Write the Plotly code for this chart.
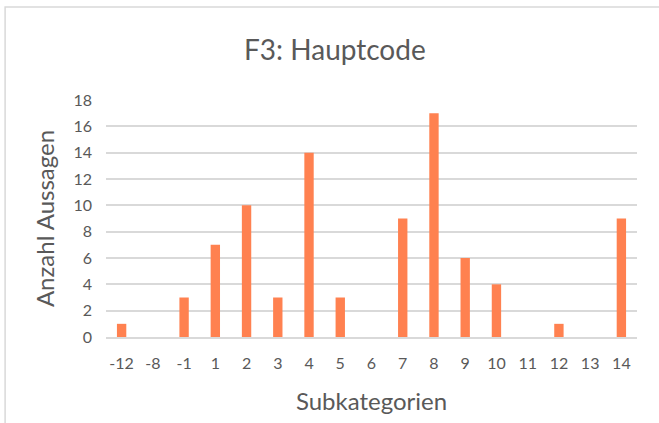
import plotly.graph_objects as go

# Daten
subkategorien = ['-12', '-8', '-1', '1', '2', '3', '4', '5', '6', '7', '8', '9', '10', '11', '12', '13', '14']
anzahl = [1, 0, 3, 7, 10, 3, 14, 3, 0, 9, 17, 6, 4, 0, 1, 0, 9]
y_ticks = [0, 2, 4, 6, 8, 10, 12, 14, 16, 18]

BAR_COLOR = '#FF8150'
TEXT_COLOR = '#595959'
GRID_COLOR = '#D9D9D9'
FONT = 'Lato, Open Sans, sans-serif'

fig = go.Figure()
fig.add_trace(go.Bar(
    x=subkategorien,
    y=anzahl,
    marker=dict(color=BAR_COLOR, line=dict(width=0)),
))

fig.update_layout(
    width=659,
    height=423,
    margin=dict(l=106, r=22, t=100, b=86),
    paper_bgcolor='white',
    plot_bgcolor='white',
    showlegend=False,
    bargap=0.7,
    font=dict(family=FONT, color=TEXT_COLOR),
    title=dict(
        text='F3: Hauptcode',
        x=0.431,
        xanchor='center',
        xref='paper',
        y=0.882,
        yanchor='middle',
        font=dict(size=28, color=TEXT_COLOR, family=FONT),
    ),
    shapes=[
        # Rahmen des Diagrammbereichs
        dict(type='rect', xref='paper', yref='paper',
             x0=-0.19, y0=-0.6, x1=1.2, y1=1.392,
             line=dict(color=GRID_COLOR, width=1.5), layer='below'),
    ],
)

fig.update_xaxes(
    type='category',
    showgrid=False,
    showline=True,
    linecolor=GRID_COLOR,
    linewidth=1.5,
    ticks='',
    ticklabelstandoff=11,
    tickfont=dict(size=16, color=TEXT_COLOR),
    title=dict(text='Subkategorien', font=dict(size=24, color=TEXT_COLOR), standoff=22),
)
fig.update_yaxes(
    range=[0, 18],
    tickvals=y_ticks,
    showgrid=True,
    gridcolor=GRID_COLOR,
    gridwidth=1.5,
    zeroline=False,
    ticks='',
    ticklabelstandoff=13,
    tickfont=dict(size=16, color=TEXT_COLOR),
    title=dict(text='Anzahl Aussagen', font=dict(size=24, color=TEXT_COLOR), standoff=12),
)

# Standardrand des Browsers entfernen, damit die Positionen mit dem Original übereinstimmen
fig.write_html('out.html', config={'displayModeBar': False},
               post_script="document.body.style.margin='0';")
